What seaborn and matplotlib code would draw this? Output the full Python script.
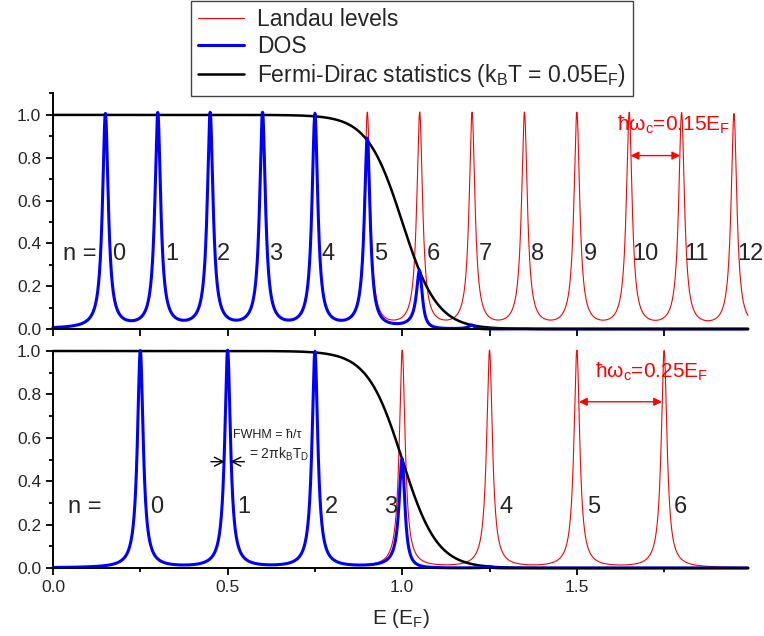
import numpy as np
import pandas as pd
import seaborn as sns
import matplotlib
matplotlib.use("Agg")
import matplotlib.pyplot as plt
from matplotlib.ticker import MultipleLocator

# Parámetros
E_F = 1.0            # energía de Fermi
kT = 0.05            # k_B T = 0.05 E_F
gamma = 0.01         # semi-anchura de los niveles (HWHM)
E_max = 1.99

# Niveles de Landau (centros de los picos)
levels_top = [0.15, 0.30, 0.45, 0.60, 0.75, 0.90, 1.05, 1.20, 1.35, 1.50, 1.65, 1.80, 1.95]
levels_bot = [0.25, 0.50, 0.75, 1.00, 1.25, 1.50, 1.75]
labels_top = ["0", "1", "2", "3", "4", "5", "6", "7", "8", "9", "10", "11", "12"]
labels_bot = ["0", "1", "2", "3", "4", "5", "6"]

sns.set_style("ticks")
plt.rcParams["font.family"] = ["Liberation Sans", "DejaVu Sans"]
plt.rcParams["mathtext.fontset"] = "custom"
plt.rcParams["mathtext.rm"] = "Liberation Sans"
plt.rcParams["mathtext.it"] = "Liberation Sans"
plt.rcParams["mathtext.default"] = "regular"


def landau(E, levels):
    """Suma de lorentzianas de altura 1 centradas en cada nivel."""
    L = np.zeros_like(E)
    for e0 in levels:
        L += 1.0 / (1.0 + ((E - e0) / gamma) ** 2)
    return L


def fermi(E):
    return 1.0 / (1.0 + np.exp((E - E_F) / kT))


E = np.linspace(0, E_max, 4000)


def make_df(levels):
    L = landau(E, levels)
    f = fermi(E)
    return pd.DataFrame({"E": E, "Landau": L, "Fermi": f, "DOS": L * f})


df_top = make_df(levels_top)
df_bot = make_df(levels_bot)

fig = plt.figure(figsize=(7.64, 6.36), dpi=100)
ax1 = fig.add_axes([0.0694, 0.4827, 0.9096, 0.3703])
ax2 = fig.add_axes([0.0694, 0.1069, 0.9096, 0.3412])

for ax, df, ytop in [(ax1, df_top, 1.1), (ax2, df_bot, 1.0)]:
    sns.lineplot(data=df, x="E", y="Landau", ax=ax, color="red", lw=0.8,
                 label="Landau levels", clip_on=False)
    sns.lineplot(data=df, x="E", y="Fermi", ax=ax, color="black", lw=1.8,
                 label=r"Fermi-Dirac statistics (k$_B$T = 0.05E$_F$)", clip_on=False)
    sns.lineplot(data=df, x="E", y="DOS", ax=ax, color="blue", lw=2.2,
                 label="DOS", clip_on=False)
    ax.set_xlim(0, E_max)
    ax.set_ylim(0, ytop)
    ax.yaxis.set_major_locator(MultipleLocator(0.2))
    ax.yaxis.set_minor_locator(MultipleLocator(0.1))
    ax.tick_params(axis="both", which="major", direction="out", length=5, width=1.3,
                   labelsize=12.5, color="black")
    ax.tick_params(axis="both", which="minor", direction="out", length=3, width=1.3,
                   color="black")
    for s in ["top", "right"]:
        ax.spines[s].set_visible(False)
    for s in ["left", "bottom"]:
        ax.spines[s].set_linewidth(1.4)
        ax.spines[s].set_color("black")
    ax.set_ylabel("")
    ax.get_legend().remove()

ax1.xaxis.set_major_locator(MultipleLocator(0.25))
ax1.tick_params(axis="x", labelbottom=False)
ax1.set_xlabel("")
ax2.xaxis.set_major_locator(MultipleLocator(0.5))
ax2.xaxis.set_minor_locator(MultipleLocator(0.25))
ax2.set_xlabel(r"E (E$_F$)", fontsize=15, labelpad=9)

# Leyenda (orden: Landau, DOS, Fermi)
h, l = ax1.get_legend_handles_labels()
order = [0, 2, 1]
fig.legend([h[i] for i in order], [l[i] for i in order], loc="upper left",
           bbox_to_anchor=(0.25, 0.998), fontsize=16.5, frameon=True, fancybox=False,
           edgecolor="#444444", framealpha=1, handlelength=2.0, handletextpad=0.6,
           borderpad=0.3, labelspacing=0.18, borderaxespad=0)

# Etiquetas n
ax1.text(0.03, 0.35, "n =", fontsize=17, va="center")
for e0, lab in zip(levels_top, labels_top):
    off = 0.02 if len(lab) == 1 else 0.008
    ax1.text(e0 + off, 0.35, lab, fontsize=17, va="center", ha="left")
ax2.text(0.043, 0.28, "n =", fontsize=17, va="center")
for e0, lab in zip(levels_bot, labels_bot):
    if e0 == E_F:
        ax2.text(e0 - 0.015, 0.28, lab, fontsize=17, va="center", ha="right")
    else:
        ax2.text(e0 + 0.028, 0.28, lab, fontsize=17, va="center", ha="left")

# ħω_c
ax1.annotate("", xy=(levels_top[10] + 0.004, 0.81), xytext=(levels_top[11] - 0.004, 0.81),
             arrowprops=dict(arrowstyle="<|-|>", color="red", lw=1, mutation_scale=12,
                             shrinkA=0, shrinkB=0))
ax1.text(1.615, 0.955, r"ħω$_c$=0.15E$_F$", color="red", fontsize=15, va="center")
ax2.annotate("", xy=(levels_bot[5] + 0.006, 0.766), xytext=(levels_bot[6] - 0.006, 0.766),
             arrowprops=dict(arrowstyle="<|-|>", color="red", lw=1, mutation_scale=12,
                             shrinkA=0, shrinkB=0))
ax2.text(1.552, 0.905, r"ħω$_c$=0.25E$_F$", color="red", fontsize=15, va="center")

# FWHM
ax2.annotate("", xy=(0.492, 0.49), xytext=(0.452, 0.49),
             arrowprops=dict(arrowstyle="->", color="black", lw=1, shrinkA=0, shrinkB=0,
                             mutation_scale=16))
ax2.annotate("", xy=(0.508, 0.49), xytext=(0.548, 0.49),
             arrowprops=dict(arrowstyle="->", color="black", lw=1, shrinkA=0, shrinkB=0,
                             mutation_scale=16))
ax2.text(0.515, 0.613, "FWHM = ħ/τ", fontsize=9, va="center", color="#222222")
ax2.text(0.56, 0.525, r"= 2πk$_B$T$_D$", fontsize=10, va="center")

fig.savefig("out.png", dpi=100)
